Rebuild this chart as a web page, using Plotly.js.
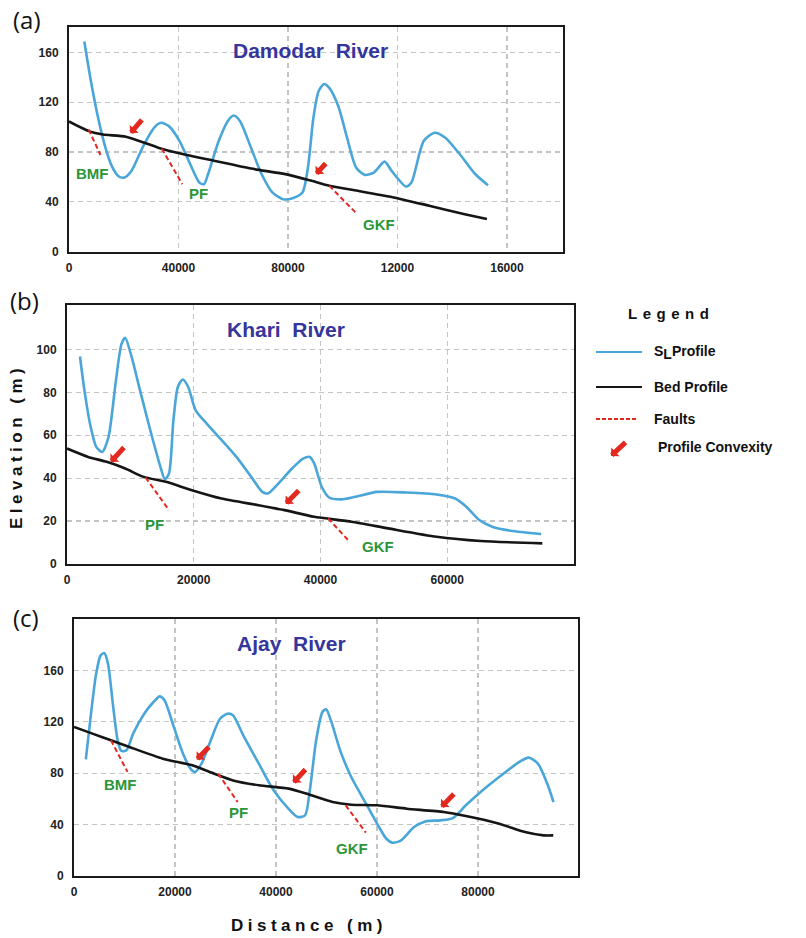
<!DOCTYPE html>
<html>
<head>
<meta charset="utf-8">
<script src="https://cdn.plot.ly/plotly-3.0.1.min.js"></script>
<style>
  html, body { margin: 0; padding: 0; background: #fff; }
  #chart { width: 806px; height: 938px; }
  text[data-unformatted="Elevation (m)"] { letter-spacing: 4.5px; }
  text[data-unformatted="Distance (m)"] { letter-spacing: 4.5px; }
  text[data-unformatted="Legend"] { letter-spacing: 5.5px; }
</style>
</head>
<body>
<div id="chart"></div>
<script>
// ---------------- DATA ----------------
const riverNames = ['Damodar  River', 'Khari  River', 'Ajay  River'];
const panelLetters = ['(a)', '(b)', '(c)'];

// (a) Damodar
const damSLx = [5600,7800,10400,13000,15600,18200,20200,22800,27400,31300,33600,36500,40400,44300,47600,49300,50800,54700,58000,60200,62500,66500,70400,74300,78200,81400,85300,87300,89300,91200,93200,95100,98400,101600,104900,108100,111400,115300,117900,123100,125100,129600,133600,137500,143300,148500,153100];
const damSLy = [168.8,139.5,110,86,68.8,60.3,59.5,64.8,86,100,103.5,100.8,88.8,70.1,55.5,54.1,62.1,88.8,104.8,109.3,104.8,83.5,62.1,47.5,42.1,42.7,47.5,67.5,107.5,128.8,134.7,131.5,116.8,91.5,67.5,61.6,63.5,72.3,64.8,52.3,55.5,88.8,95.5,91.5,76.8,62.1,53.3];
const damBedx = [0,7200,12400,20800,32600,43000,53400,66500,79500,88600,95100,105500,118600,131600,144600,152700];
const damBedy = [104.5,96.8,94,92.3,83.5,77.6,72.8,66.7,62,56.8,52.8,48.8,43.5,36.8,30,26.1];
const damFaultX0 = [7200,33900,95100], damFaultY0 = [98.1,82.7,52.8];
const damFaultX1 = [11500,41400,105300], damFaultY1 = [77.6,54.1,30.1];
const damFaultNames = ['BMF','PF','GKF'];
const damFaultLblX = [8500,47300,113100], damFaultLblY = [62.7,46.7,22];
const damArrTipX = [22400,90200], damArrTipY = [95,62.1];
const damArrTailX = [27100,94300], damArrTailY = [107,72];
const damXticks = [0,40000,80000,120000,160000];
const damXtickText = ['0','40000','80000','12000','16000'];
const damYticks = [0,40,80,120,160];
const damTitlePos = [88400,161.8];

// (b) Khari
const khSLx = [2050,2750,3630,4620,5560,6550,7720,8600,9180,10060,11520,13280,14740,15440,16090,16790,17490,18250,19130,20300,22050,24400,26730,29070,30830,31700,32880,35510,37260,38320,39020,40190,41360,43110,45450,48960,53640,58320,61250,63000,65050,67100,70020,74820];
const khSLy = [96.7,80.9,65.4,54.6,52.2,59.2,85.6,102.6,105.4,98,80.9,60.8,45.3,39.5,42.2,67,82.5,86,82.5,71.6,65.4,57.7,49.9,40.6,33.6,32.9,36,44.5,49.1,49.9,46.8,36,31,30.1,31.3,33.6,33.3,32.4,30.5,26.7,20.5,17.4,15.5,14];
const khBedx = [0,3330,6260,9180,12100,15600,19700,24400,30200,34300,39000,44900,50700,58300,65300,75000];
const khBedy = [53.8,49.9,47.6,44.5,40.6,38.3,34.4,30.5,27.4,25.1,22,19.7,16.6,12.7,10.7,9.6];
const khFaultX0 = [12400,41200], khFaultY0 = [40.3,21.2];
const khFaultX1 = [16100,44600], khFaultY1 = [25.1,10.4];
const khFaultNames = ['PF','GKF'];
const khFaultLblX = [13750,49100], khFaultLblY = [18.4,8];
const khArrTipX = [6900,34500], khArrTipY = [47.5,28];
const khArrTailX = [9200,36800], khArrTailY = [55,35];
const khXticks = [0,20000,40000,60000];
const khYticks = [0,20,40,60,80,100];
const khTitlePos = [34600,109.5];

// (c) Ajay
const ajSLx = [2340,3290,4390,5270,6000,6730,7690,8640,9370,10390,11710,13900,15740,16980,17930,19760,21590,23060,23940,25250,27080,28910,30380,31480,33670,36600,39530,42460,44290,45750,46700,47950,49190,49920,50870,52700,54900,57830,60020,61850,63100,64780,67340,69540,72470,75030,77590,80520,84180,87840,90040,91870,93700,94940];
const ajSLy = [90.8,123.7,157.5,171.7,173.5,165.2,134,105.6,97.3,97.8,110.8,126.3,135.4,139.8,136.7,116,95.2,83.5,80.9,87.4,105.6,122.4,126.3,125,108.2,87.4,66.7,52.4,45.9,47.2,66.7,105.6,127.6,129.7,121.1,97.8,77,56.3,40.7,29,25.9,27.8,38.1,42.5,43.3,45.1,55,65.4,77,87.9,92.1,87.4,71.9,57.6];
const ajBedx = [0,3660,7320,10980,17570,23420,27800,31500,36600,42500,46100,51200,54900,60000,65900,73200,77600,84200,89300,93000,94900];
const ajBedy = [116,110.8,105.6,100.4,91.3,86.1,79.6,74.4,70.6,68,64,57.6,55.5,55,52.4,49.8,46.7,40.7,34.2,31.6,31.6];
const ajFaultX0 = [7320,28550,53800], ajFaultY0 = [105.6,79.6,55];
const ajFaultX1 = [10600,32400,57800], ajFaultY1 = [81,57.6,33.7];
const ajFaultNames = ['BMF','PF','GKF'];
const ajFaultLblX = [9150,32570,55050], ajFaultLblY = [71,49.8,21.3];
const ajArrTipX = [24300,43400,72700], ajArrTipY = [90.5,72.5,53.5];
const ajArrTailX = [27000,46100,75500], ajArrTailY = [101.5,84,65];
const ajXticks = [0,20000,40000,60000,80000];
const ajYticks = [0,40,80,120,160];
const ajTitlePos = [43000,181];

const legendLabels = ['S<sub><span style="font-size:14px">L</span></sub>Profile', 'Bed Profile', 'Faults', 'Profile Convexity'];

// ---------------- STYLE / BUILD ----------------
const W = 806, H = 938;
const BLUE = '#4aa6d8', BLACK = '#151515', RED = '#e3281f', GREEN = '#2b9637', TBLUE = '#35359c';
const FONT = 'Arial, "Liberation Sans", sans-serif';
const px = v => v / W, py = v => 1 - v / H;

const panels = [
  {sx: damSLx, sy: damSLy, bx: damBedx, by: damBedy, fx0: damFaultX0, fy0: damFaultY0, fx1: damFaultX1, fy1: damFaultY1,
   fn: damFaultNames, flx: damFaultLblX, fly: damFaultLblY, atx: damArrTipX, aty: damArrTipY, alx: damArrTailX, aly: damArrTailY,
   xt: damXticks, xtt: damXtickText, yt: damYticks, tp: damTitlePos,
   dom: {x: [69, 563], y: [27, 251.5]}, xr: [0, 180500], yr: [0, 180.5], letter: [27, 20]},
  {sx: khSLx, sy: khSLy, bx: khBedx, by: khBedy, fx0: khFaultX0, fy0: khFaultY0, fx1: khFaultX1, fy1: khFaultY1,
   fn: khFaultNames, flx: khFaultLblX, fly: khFaultLblY, atx: khArrTipX, aty: khArrTipY, alx: khArrTailX, aly: khArrTailY,
   xt: khXticks, xtt: khXticks.map(String), yt: khYticks, tp: khTitlePos,
   dom: {x: [67, 574], y: [305, 564]}, xr: [0, 80000], yr: [0, 120.7], letter: [24, 301]},
  {sx: ajSLx, sy: ajSLy, bx: ajBedx, by: ajBedy, fx0: ajFaultX0, fy0: ajFaultY0, fx1: ajFaultX1, fy1: ajFaultY1,
   fn: ajFaultNames, flx: ajFaultLblX, fly: ajFaultLblY, atx: ajArrTipX, aty: ajArrTipY, alx: ajArrTailX, aly: ajArrTailY,
   xt: ajXticks, xtt: ajXticks.map(String), yt: ajYticks, tp: ajTitlePos,
   dom: {x: [74, 578], y: [619, 876]}, xr: [0, 99800], yr: [0, 200], letter: [26, 617]}
];

const traces = [];
const annotations = [];
const shapes = [];
const layout = {
  width: W, height: H,
  margin: {l: 0, r: 0, t: 0, b: 0},
  paper_bgcolor: '#fff', plot_bgcolor: '#fff',
  showlegend: false,
  font: {family: FONT}
};
const ARROW = {arrowhead: 1, arrowsize: 0.4, arrowwidth: 5, arrowcolor: RED, standoff: 0};

panels.forEach((p, i) => {
  const n = i === 0 ? '' : String(i + 1);
  const xa = 'x' + n, ya = 'y' + n;
  const axCommon = {
    showline: true, linecolor: '#1a1a1a', linewidth: 2, mirror: true,
    showgrid: true, gridcolor: '#c4c4c4', griddash: '5px,4px', gridwidth: 1.3,
    zeroline: false, ticks: '', fixedrange: true,
    tickfont: {family: FONT, size: 12, color: '#222', weight: 700}
  };
  layout['xaxis' + n] = Object.assign({}, axCommon, {
    domain: [px(p.dom.x[0]), px(p.dom.x[1])], anchor: ya, range: p.xr,
    tickmode: 'array', tickvals: p.xt, ticktext: p.xtt, ticklabelstandoff: 4
  });
  layout['yaxis' + n] = Object.assign({}, axCommon, {
    domain: [py(p.dom.y[1]), py(p.dom.y[0])], anchor: xa, range: p.yr,
    tickmode: 'array', tickvals: p.yt, ticklabelstandoff: 6
  });

  traces.push({x: p.sx, y: p.sy, xaxis: xa, yaxis: ya, mode: 'lines',
    line: {color: BLUE, width: 2.6, shape: 'spline', smoothing: 0.7}, hoverinfo: 'skip'});
  traces.push({x: p.bx, y: p.by, xaxis: xa, yaxis: ya, mode: 'lines',
    line: {color: BLACK, width: 2.6, shape: 'spline', smoothing: 0.6}, hoverinfo: 'skip'});
  p.fx0.forEach((_, k) => {
    traces.push({x: [p.fx0[k], p.fx1[k]], y: [p.fy0[k], p.fy1[k]], xaxis: xa, yaxis: ya, mode: 'lines',
      line: {color: RED, width: 2, dash: '5px,3px'}, hoverinfo: 'skip'});
  });
  p.fn.forEach((t, k) => {
    annotations.push({xref: xa, yref: ya, x: p.flx[k], y: p.fly[k], text: t, showarrow: false,
      font: {family: FONT, size: 15, color: GREEN, weight: 700}, xanchor: 'center', yanchor: 'middle'});
  });
  p.atx.forEach((_, k) => {
    annotations.push(Object.assign({xref: xa, yref: ya, x: p.atx[k], y: p.aty[k], axref: xa, ayref: ya,
      ax: p.alx[k], ay: p.aly[k], text: '', showarrow: true}, ARROW));
  });
  annotations.push({xref: xa, yref: ya, x: p.tp[0], y: p.tp[1], text: riverNames[i], showarrow: false,
    font: {family: FONT, size: 21, color: TBLUE, weight: 700}, xanchor: 'center', yanchor: 'middle'});
  annotations.push({xref: 'paper', yref: 'paper', x: px(p.letter[0]), y: py(p.letter[1]), text: panelLetters[i],
    showarrow: false, font: {family: '"Open Sans", "Noto Sans", sans-serif', size: 24, color: '#111'},
    xanchor: 'center', yanchor: 'middle'});
});

// axis titles
annotations.push({xref: 'paper', yref: 'paper', x: px(17), y: py(447), text: 'Elevation (m)', textangle: -90,
  showarrow: false, font: {family: FONT, size: 17, color: '#111', weight: 700}, xanchor: 'center', yanchor: 'middle'});
annotations.push({xref: 'paper', yref: 'paper', x: px(309), y: py(925), text: 'Distance (m)',
  showarrow: false, font: {family: FONT, size: 17, color: '#111', weight: 700}, xanchor: 'center', yanchor: 'middle'});

// legend (manual)
annotations.push({xref: 'paper', yref: 'paper', x: px(671), y: py(313), text: 'Legend', showarrow: false,
  font: {family: FONT, size: 15, color: '#111', weight: 700}, xanchor: 'center', yanchor: 'middle'});
const legY = [352, 387, 419, 447];
const legColors = [BLUE, BLACK, RED];
[0, 1, 2].forEach(k => {
  shapes.push({type: 'line', xref: 'paper', yref: 'paper', x0: px(596), x1: px(k === 2 ? 637 : 642),
    y0: py(legY[k]), y1: py(legY[k]),
    line: {color: legColors[k], width: k === 2 ? 2 : 2.2, dash: k === 2 ? '4px,2px' : 'solid'}});
});
legendLabels.forEach((t, k) => {
  annotations.push({xref: 'paper', yref: 'paper', x: px(k === 3 ? 656 : 652), y: py(legY[k]), text: t, showarrow: false,
    font: {family: FONT, size: 14, color: '#111', weight: 700}, xanchor: 'left', yanchor: 'middle'});
});
annotations.push(Object.assign({xref: 'paper', yref: 'paper', x: px(611), y: py(456), text: '', showarrow: true,
  ax: 16, ay: -15}, ARROW));

layout.annotations = annotations;
layout.shapes = shapes;

Plotly.newPlot('chart', traces, layout, {staticPlot: true, displayModeBar: false});
</script>
</body>
</html>
